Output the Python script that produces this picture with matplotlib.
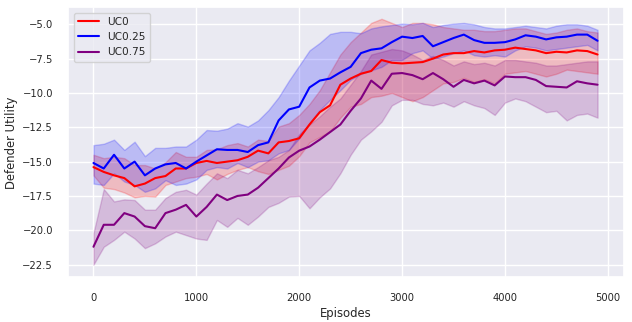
import matplotlib
matplotlib.use("Agg")
import matplotlib.pyplot as plt
import seaborn as sns

episodes = list(range(0, 5000, 100))

# UC0 (red)
uc0_mean = [-15.4, -15.75, -16.0, -16.2, -16.8, -16.6, -16.2, -16.05, -15.5, -15.5,
            -15.1, -14.95, -15.1, -15.0, -14.9, -14.65, -14.2, -14.4, -13.6, -13.5,
            -13.3, -12.3, -11.4, -10.9, -9.4, -8.95, -8.6, -8.4, -7.6, -7.8,
            -7.85, -7.8, -7.75, -7.5, -7.2, -7.1, -7.1, -6.95, -7.05, -6.9,
            -6.85, -6.7, -6.8, -6.9, -7.1, -7.0, -7.05, -6.9, -6.95, -7.2]
uc0_upper = [-14.5, -14.75, -14.65, -14.75, -15.25, -15.25, -15.5, -15.05, -14.3, -14.65,
             -14.65, -14.15, -14.1, -13.8, -13.65, -13.9, -13.4, -13.5, -12.45, -12.2,
             -11.6, -10.8, -9.8, -8.5, -7.2, -6.3, -5.6, -4.9, -4.6, -4.9,
             -5.2, -4.9, -4.9, -5.0, -5.2, -5.3, -5.4, -5.4, -5.5, -5.5,
             -5.4, -5.3, -5.3, -5.5, -5.7, -5.6, -5.4, -5.3, -5.5, -5.6]
uc0_lower = [-16.0, -16.9, -17.0, -17.25, -17.6, -17.5, -17.55, -16.7, -16.45, -16.2,
             -16.1, -15.9, -16.3, -15.9, -15.6, -15.4, -15.7, -15.9, -15.6, -15.3,
             -14.6, -13.6, -13.2, -12.8, -11.8, -11.0, -10.8, -10.3, -10.2, -10.0,
             -10.3, -10.6, -10.3, -9.8, -9.3, -9.2, -8.9, -9.2, -9.0, -9.3,
             -8.6, -8.5, -8.4, -8.6, -8.8, -8.6, -8.3, -8.4, -8.5, -8.6]

# UC0.25 (blue)
uc25_mean = [-15.1, -15.5, -14.5, -15.5, -15.0, -16.0, -15.5, -15.2, -15.1, -15.5,
             -15.0, -14.55, -14.1, -14.15, -14.15, -14.3, -13.8, -13.6, -12.0, -11.2,
             -11.0, -9.6, -9.1, -8.95, -8.5, -8.1, -7.1, -6.85, -6.75, -6.3,
             -5.9, -6.0, -5.85, -6.6, -6.3, -6.0, -5.75, -6.15, -6.35, -6.35,
             -6.3, -6.1, -5.8, -5.9, -6.1, -5.95, -5.9, -5.75, -5.75, -6.2]
uc25_upper = [-13.8, -13.7, -13.4, -14.15, -13.55, -14.6, -14.0, -14.0, -13.9, -13.9,
              -13.4, -12.7, -12.75, -12.6, -12.2, -12.45, -12.0, -11.25, -10.3, -9.1,
              -8.0, -6.9, -6.35, -5.7, -5.55, -5.55, -5.65, -5.3, -5.15, -5.05,
              -4.95, -5.0, -4.9, -5.2, -5.05, -4.95, -4.9, -5.0, -5.2, -5.3,
              -5.3, -5.2, -5.1, -5.2, -5.3, -5.1, -5.0, -5.0, -5.1, -5.4]
uc25_lower = [-16.6, -16.7, -15.85, -16.45, -16.7, -17.2, -16.95, -16.35, -16.7, -16.6,
              -16.3, -15.6, -15.4, -15.5, -15.1, -15.4, -15.0, -14.9, -14.4, -14.15,
              -13.3, -12.2, -11.25, -10.5, -9.8, -9.05, -8.6, -8.35, -8.1, -7.6,
              -7.6, -7.1, -6.9, -7.5, -7.35, -7.1, -6.9, -7.25, -7.35, -7.25,
              -7.35, -6.9, -6.6, -6.7, -6.9, -6.8, -6.7, -6.6, -6.5, -6.9]

# UC0.75 (purple)
uc75_mean = [-21.2, -19.6, -19.6, -18.75, -19.0, -19.7, -19.85, -18.75, -18.5, -18.15,
             -19.0, -18.3, -17.4, -17.8, -17.5, -17.4, -16.9, -16.2, -15.5, -14.7,
             -14.2, -13.9, -13.4, -12.85, -12.3, -11.3, -10.4, -9.1, -9.7, -8.6,
             -8.55, -8.7, -9.0, -8.55, -9.0, -9.55, -9.05, -9.3, -9.1, -9.45,
             -8.8, -8.85, -8.85, -9.05, -9.5, -9.55, -9.6, -9.15, -9.3, -9.4]
uc75_upper = [-20.2, -17.0, -17.9, -17.75, -17.8, -18.5, -18.5, -17.65, -17.2, -17.05,
              -17.4, -16.6, -15.85, -16.2, -15.6, -15.85, -15.4, -14.9, -14.65, -14.15,
              -13.0, -12.3, -11.7, -11.0, -10.4, -9.4, -8.4, -7.2, -7.0, -6.8,
              -6.9, -7.2, -7.6, -7.3, -7.6, -8.0, -7.7, -7.9, -7.8, -8.0,
              -7.6, -7.6, -7.7, -7.8, -8.0, -8.0, -7.9, -7.8, -7.7, -7.7]
uc75_lower = [-22.5, -21.2, -20.7, -20.1, -20.6, -21.3, -20.95, -20.45, -20.1, -20.35,
              -20.6, -20.7, -19.25, -19.75, -19.1, -19.6, -19.0, -18.3, -18.0, -17.55,
              -17.5, -18.4, -17.6, -16.95, -15.85, -14.5, -13.4, -12.8, -12.1, -10.9,
              -10.5, -10.5, -10.8, -10.9, -10.7, -11.0, -10.6, -10.9, -11.1, -11.6,
              -10.7, -10.4, -10.6, -11.0, -11.4, -11.3, -12.0, -11.6, -11.5, -11.8]

sns.set_theme(style="darkgrid")

fig, ax = plt.subplots(figsize=(6.32, 3.22), dpi=100)
fig.subplots_adjust(left=0.108, right=0.987, top=0.977, bottom=0.139)

series = [("UC0", uc0_mean, uc0_lower, uc0_upper, "red"),
          ("UC0.25", uc25_mean, uc25_lower, uc25_upper, "blue"),
          ("UC0.75", uc75_mean, uc75_lower, uc75_upper, "purple")]

for label, mean, lo, hi, col in series:
    ax.plot(episodes, mean, color=col, lw=1.5, label=label)
    ax.fill_between(episodes, lo, hi, color=col, alpha=0.2, lw=1)

ax.set_xlim(-245, 5155)
ax.set_ylim(-23.42, -3.77)
ax.set_xlabel("Episodes", fontsize=8.4, labelpad=3)
ax.set_ylabel("Defender Utility", fontsize=8.4, labelpad=3)
ax.tick_params(labelsize=7.2, pad=5)
ax.legend(loc="upper left", fontsize=7.6)

fig.savefig("out.png", dpi=100)
